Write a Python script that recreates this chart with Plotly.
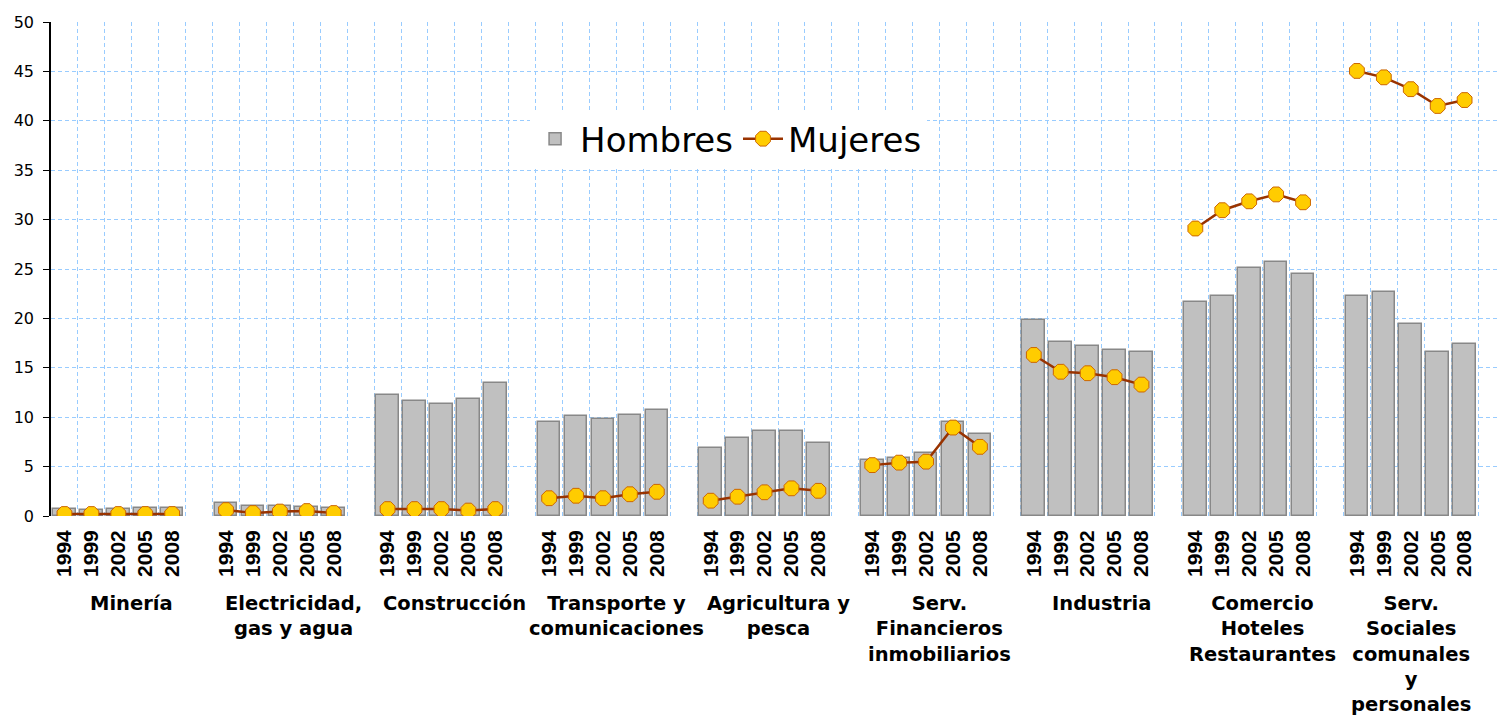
import plotly.graph_objects as go

# sectores y años
sectores = [
    "Minería",
    "Electricidad,<br>gas y agua",
    "Construcción",
    "Transporte y<br>comunicaciones",
    "Agricultura y<br>pesca",
    "Serv.<br>Financieros<br>inmobiliarios",
    "Industria",
    "Comercio<br>Hoteles<br>Restaurantes",
    "Serv.<br>Sociales<br>comunales<br>y<br>personales",
]
anios = ["1994", "1999", "2002", "2005", "2008"]

# % por sector, 5 años cada uno
hombres = [
    0.7, 0.6, 0.7, 0.8, 0.8,
    1.3, 1.05, 1.05, 0.9, 0.8,
    12.25, 11.6, 11.3, 11.85, 13.45,
    9.5, 10.1, 9.85, 10.25, 10.75,
    6.85, 7.85, 8.6, 8.6, 7.35,
    5.65, 5.85, 6.35, 9.5, 8.25,
    19.85, 17.6, 17.2, 16.85, 16.6,
    21.7, 22.3, 25.1, 25.7, 24.45,
    22.3, 22.7, 19.45, 16.6, 17.45,
]
mujeres = [
    0.2, 0.2, 0.2, 0.2, 0.2,
    0.6, 0.3, 0.45, 0.5, 0.3,
    0.7, 0.7, 0.7, 0.55, 0.7,
    1.8, 2.05, 1.8, 2.2, 2.45,
    1.55, 1.95, 2.4, 2.8, 2.55,
    5.15, 5.4, 5.5, 8.95, 7.0,
    16.3, 14.6, 14.45, 14.05, 13.3,
    29.1, 30.95, 31.85, 32.55, 31.75,
    45.05, 44.4, 43.2, 41.5, 42.1,
]

n = len(anios)
paso = n + 1  # una categoría vacía entre sectores

x_pos, x_txt, y_h = [], [], []
xl, yl = [], []
for g in range(len(sectores)):
    for k in range(n):
        p = g * paso + k
        x_pos.append(p)
        x_txt.append(anios[k])
        y_h.append(hombres[g * n + k])
        xl.append(p)
        yl.append(mujeres[g * n + k])
    xl.append(None)
    yl.append(None)

total = paso * len(sectores) - 1

fig = go.Figure()
fig.add_trace(go.Bar(
    x=x_pos, y=y_h, name="Hombres", width=0.84,
    marker=dict(color="#C0C0C0", line=dict(color="#888888", width=1.5)),
))
fig.add_trace(go.Scatter(
    x=xl, y=yl, name="Mujeres", mode="lines+markers", connectgaps=False,
    line=dict(color="#993300", width=2.5),
    marker=dict(symbol="octagon", size=16, color="#FFCC00",
                line=dict(color="#CC6600", width=1)),
))

# etiquetas de sector bajo los años
for g, s in enumerate(sectores):
    ancho = paso if g < len(sectores) - 1 else n
    centro = g * paso + (ancho - 1) / 2
    fig.add_annotation(
        x=centro, y=0, xref="x", yref="paper", text=s, showarrow=False,
        yanchor="top", yshift=-74,
        font=dict(family="DejaVu Sans", size=19.5, color="black", weight="bold"),
    )

grid = "#99CCFF"
fig.update_layout(
    width=1497, height=709,
    margin=dict(l=43, r=0, t=14, b=201),
    plot_bgcolor="white", paper_bgcolor="white",
    bargap=0,
    legend=dict(
        orientation="h", x=0.466, y=0.763, xanchor="center", yanchor="middle",
        itemwidth=40,
        bgcolor="white", font=dict(family="DejaVu Sans", size=34, color="black"),
    ),
    xaxis=dict(
        range=[-0.5, total + 0.5],
        tickmode="array", tickvals=x_pos, ticktext=x_txt, tickangle=-90,
        showgrid=False, zeroline=False, showline=False, ticks="",
        ticklabelstandoff=9,
        tickfont=dict(family="Liberation Sans", size=21, color="black", weight="bold"),
        minor=dict(tickmode="linear", tick0=0.5, dtick=1, showgrid=True,
                   gridcolor=grid, griddash="4px,3px", gridwidth=1),
    ),
    yaxis=dict(
        range=[0, 50], dtick=5, showgrid=True, gridcolor=grid,
        griddash="4px,3px", gridwidth=1, zeroline=False,
        showline=True, linecolor="black", linewidth=1.5,
        ticks="outside", ticklen=6, tickcolor="black", ticklabelstandoff=6,
        tickfont=dict(family="DejaVu Sans", size=16, color="black"),
    ),
)

fig.write_html("out.html")
